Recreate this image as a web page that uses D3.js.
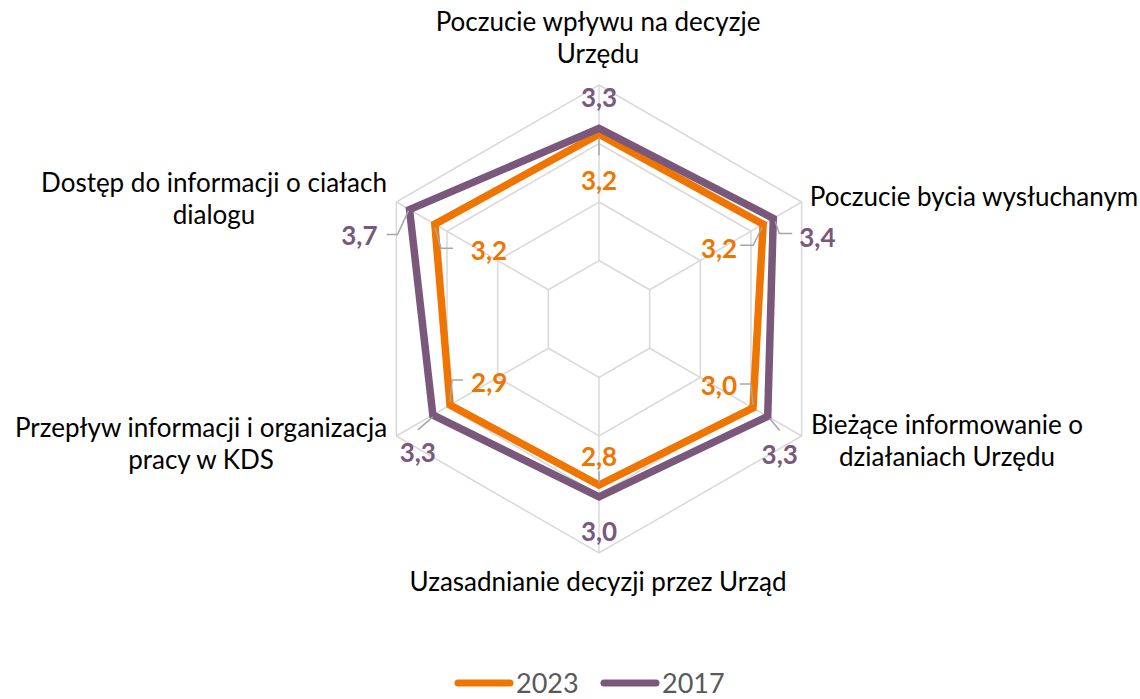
<!DOCTYPE html>
<html>
<head>
<meta charset="utf-8">
<script src="https://cdn.jsdelivr.net/npm/d3@7"></script>
<style>
  body { margin: 0; background: #fff; }
  text { font-family: Lato, "Open Sans", sans-serif; }
</style>
</head>
<body>
<div id="container"></div>
<script>
// axis names (lines split where the chart wraps them)
var categories = [
    ["Poczucie wpływu na decyzje", "Urzędu"],
    ["Poczucie bycia wysłuchanym"],
    ["Bieżące informowanie o", "działaniach Urzędu"],
    ["Uzasadnianie decyzji przez Urząd"],
    ["Przepływ informacji i organizacja", "pracy w KDS"],
    ["Dostęp do informacji o ciałach", "dialogu"]
];
var years = ["2023", "2017"];
var values2023 = [3.16, 3.24, 3.04, 2.84, 2.94, 3.24];
var values2017 = [3.26, 3.44, 3.33, 3.04, 3.28, 3.74];
var gridLevels = [1, 2, 3, 4];

var colors = { "2023": "#EF7500", "2017": "#7A587C" };

var svgElementAttr = { width: 1140, height: 699, cx: 599, cy: 319, radius: 234 };
var svg = d3.select("#container").append("svg")
    .attr("width", svgElementAttr.width).attr("height", svgElementAttr.height);

var r = d3.scaleLinear().domain([0, 4]).range([0, svgElementAttr.radius]);
var angle = d3.scaleLinear().domain([0, categories.length]).range([0, 2 * Math.PI]);

var point = function (i, v) {
    var a = angle(i);
    return [svgElementAttr.cx + r(v) * Math.sin(a), svgElementAttr.cy - r(v) * Math.cos(a)];
};

// grid hexagons + spokes
var grid = svg.append("g");
gridLevels.forEach(function (lv) {
    grid.append("path")
        .attr("d", d3.line()(categories.map(function (c, i) { return point(i, lv); })) + "Z")
        .attr("fill", "none").attr("stroke", "#D9D9D9").attr("stroke-width", 1.5);
});
categories.forEach(function (c, i) {
    var p0 = point(i, 1), p1 = point(i, 4);
    grid.append("line").attr("x1", p0[0]).attr("y1", p0[1]).attr("x2", p1[0]).attr("y2", p1[1])
        .attr("stroke", "#D9D9D9").attr("stroke-width", 1.5);
});

// series
var series = [
    { name: "2023", values: values2023 },
    { name: "2017", values: values2017 }
];
series.forEach(function (s) {
    svg.append("path")
        .attr("d", d3.line()(s.values.map(function (v, i) { return point(i, v); })) + "Z")
        .attr("fill", "none").attr("stroke", colors[s.name])
        .attr("stroke-width", 7.5).attr("stroke-linejoin", "miter");
});

// data label layout: leader polyline (relative to vertex), label anchor and offset
var labelLayout = {
    "2023": [
        { lead: [[0, 3], [0, 21]], dx: 0, dy: 46, anchor: "middle" },
        { lead: [[-1, 3], [-10, 21], [-23, 21]], dx: -26, dy: 24, anchor: "end" },
        { lead: [[0, -3], [-2, -24], [-13, -24]], dx: -16, dy: -22, anchor: "end" },
        { lead: [[0, -2], [0, -14]], dx: 0, dy: -29, anchor: "middle" },
        { lead: [[0, -3], [2, -25], [13, -25]], dx: 21, dy: -22, anchor: "start" },
        { lead: [[0, 3], [6, 24], [18, 24]], dx: 36, dy: 26, anchor: "start" }
    ],
    "2017": [
        { lead: null, dx: 0, dy: -31, anchor: "middle" },
        { lead: [[2, 3], [6, 15], [19, 15]], dx: 26, dy: 19, anchor: "start" },
        { lead: [[2, 2], [12, 14]], dx: 12, dy: 38, anchor: "middle" },
        { lead: null, dx: 0, dy: 35, anchor: "middle" },
        { lead: [[0, 2], [-15, 15]], dx: -15, dy: 38, anchor: "middle" },
        { lead: [[-1, 1], [-12, 25], [-23, 25]], dx: -32, dy: 26, anchor: "end" }
    ]
};

var fmt = function (v) { return d3.format(".1f")(v).replace(".", ","); };

series.forEach(function (s) {
    s.values.forEach(function (v, i) {
        var p = point(i, v);
        var lay = labelLayout[s.name][i];
        if (lay.lead) {
            svg.append("path")
                .attr("d", d3.line()(lay.lead.map(function (q) { return [p[0] + q[0], p[1] + q[1]]; })))
                .attr("fill", "none").attr("stroke", "#A6A6A6").attr("stroke-width", 1.5);
        }
        svg.append("text")
            .attr("x", p[0] + lay.dx).attr("y", p[1] + lay.dy)
            .attr("dy", "0.36em")
            .attr("text-anchor", lay.anchor)
            .attr("font-size", 26).attr("font-weight", "bold")
            .attr("fill", colors[s.name])
            .text(fmt(v));
    });
});

// category labels
var catPos = [
    { x: 598, y: 22 },
    { x: 974, y: 197 },
    { x: 947, y: 425 },
    { x: 598, y: 582 },
    { x: 201, y: 428 },
    { x: 214, y: 183 }
];
categories.forEach(function (lines, i) {
    var t = svg.append("text")
        .attr("text-anchor", "middle")
        .attr("font-size", 26).attr("fill", "#000");
    lines.forEach(function (ln, k) {
        t.append("tspan").attr("x", catPos[i].x).attr("y", catPos[i].y + k * 32)
            .attr("dy", "0.36em").text(ln);
    });
});

// legend
var legend = svg.append("g");
var legendX = [458, 604];
years.forEach(function (y, k) {
    legend.append("line")
        .attr("x1", legendX[k]).attr("x2", legendX[k] + 52)
        .attr("y1", 683).attr("y2", 683)
        .attr("stroke", colors[y]).attr("stroke-width", 7).attr("stroke-linecap", "round");
    legend.append("text")
        .attr("x", legendX[k] + 58).attr("y", 683).attr("dy", "0.36em")
        .attr("font-size", 27).attr("fill", "#595959")
        .text(y);
});
</script>
</body>
</html>
